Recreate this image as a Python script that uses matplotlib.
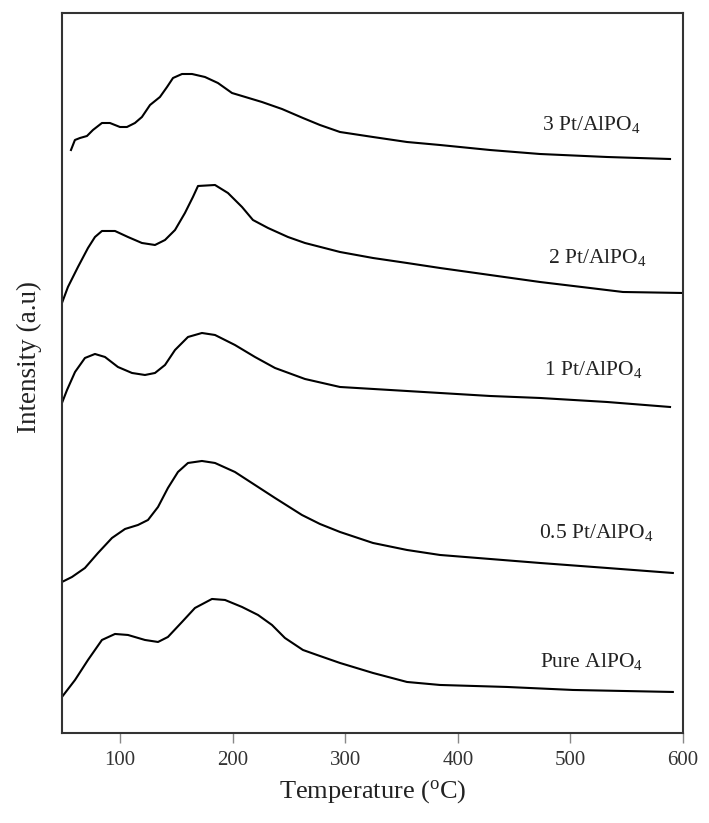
import matplotlib
matplotlib.use("Agg")
import matplotlib.pyplot as plt

plt.rcParams['font.family'] = ['Liberation Serif', 'DejaVu Serif']
plt.rcParams['mathtext.fontset'] = 'custom'
plt.rcParams['mathtext.rm'] = 'Liberation Serif'
plt.rcParams['mathtext.it'] = 'Liberation Serif:italic'

# TPD curves (temperature in C, intensity in arbitrary units)
pure_t = [48.5, 60.1, 71.6, 84.0, 95.6, 107.1, 122.2, 133.8, 142.6, 155.1, 166.6,
          181.7, 193.3, 208.4, 222.6, 235.0, 246.5, 262.5, 275.0, 295.4, 324.7,
          354.9, 384.2, 443.7, 502.3, 591]
pure_i = [36, 53, 73, 93, 99, 98, 93, 91, 96, 111, 125,
          134, 133, 126, 118, 108, 95, 83, 78, 70, 60,
          51, 48, 46, 43, 41]

pt05_t = [48.5, 57.4, 68.9, 80.5, 92.9, 104.5, 116.0, 124.9, 133.8, 142.6, 151.5,
          160.4, 172.8, 184.4, 202.1, 219.9, 237.7, 261.6, 277.6, 295.4, 324.7,
          354.9, 384.2, 428.6, 473, 532.5, 591]
pt05_i = [151, 156, 165, 180, 195, 204, 208, 213, 226, 245, 261,
          270, 272, 270, 261, 248, 235, 218, 209, 201, 190,
          183, 178, 174, 170, 165, 160]

pt1_t = [48.5, 53, 60.1, 68.9, 77.8, 86.7, 98.2, 110.7, 122.2, 131.1, 140.0,
         148.9, 160.4, 172.8, 184.4, 202.1, 219.9, 237.7, 264.3, 295.4, 339.8,
         384.2, 428.6, 473, 532.5, 588.5]
pt1_i = [330, 343, 361, 375, 379, 376, 366, 360, 358, 360, 368,
         383, 396, 400, 398, 388, 376, 365, 354, 346, 343,
         340, 337, 335, 331, 326]

pt2_t = [48.5, 53.8, 62.7, 71.6, 77.8, 84.0, 95.6, 107.1, 119.5, 131.1, 140.0,
         148.9, 157.7, 164.8, 169.3, 184.4, 195.9, 208.4, 218.1, 231.5, 249.2,
         264.3, 295.4, 324.7, 354.9, 384.2, 428.6, 473, 517.4, 546.7, 600]
pt2_i = [430, 446, 466, 485, 496, 502, 502, 496, 490, 488, 493,
         503, 520, 536, 547, 548, 540, 526, 513, 505, 496,
         490, 481, 475, 470, 465, 458, 451, 445, 441, 440]

pt3_t = [56.5, 60.0, 64.5, 70.7, 76.0, 84.0, 91.1, 100.0, 106.2, 113.3, 119.5,
         126.7, 135.5, 141.8, 147.1, 155.1, 164.0, 175.5, 187.0, 199.5, 208.4,
         226.1, 243.9, 262.5, 277.6, 295.4, 324.7, 354.9, 384.2, 428.6, 473,
         532.5, 588.5]
pt3_i = [583, 593, 595, 597, 603, 610, 610, 606, 606, 610, 616,
         628, 636, 646, 655, 659, 659, 656, 650, 640, 637,
         631, 624, 615, 608, 601, 596, 591, 588, 583, 579,
         576, 574]

labels = ['Pure AlPO$_4$', '0.5 Pt/AlPO$_4$', '1 Pt/AlPO$_4$',
          '2 Pt/AlPO$_4$', '3 Pt/AlPO$_4$']
label_t = [473, 472, 476.6, 480, 474.8]
label_i = [71, 200, 363, 475, 608]

series = [(pure_t, pure_i), (pt05_t, pt05_i), (pt1_t, pt1_i),
          (pt2_t, pt2_i), (pt3_t, pt3_i)]

fig = plt.figure(figsize=(7.09, 8.23), dpi=100)
ax = fig.add_axes([0.0874, 0.1094, 0.8759, 0.8748])

for (t, i) in series:
    ax.plot(t, i, color='black', lw=1.5, solid_joinstyle='round')

for lab, x, y in zip(labels, label_t, label_i):
    ax.text(x, y, lab, fontsize=15.5, va='center', ha='left', color='#222222')

ax.set_xlim(48.5, 600)
ax.set_ylim(0, 720)
ax.set_xticks([100, 200, 300, 400, 500, 600])
ax.set_yticks([])
ax.tick_params(axis='x', direction='out', length=7, width=1, color='#888888',
               labelsize=15, labelcolor='#333333', pad=6)
for s in ax.spines.values():
    s.set_color('#333333')
    s.set_linewidth(1.5)

ax.set_xlabel('Temperature ($^{\\rm o}$C)', fontsize=19, color='#222222', labelpad=6)
ax.set_ylabel('Intensity (a.u)', fontsize=19.5, color='#222222')
ax.yaxis.set_label_coords(-0.032, 0.522)

fig.savefig('out.png', dpi=100)
